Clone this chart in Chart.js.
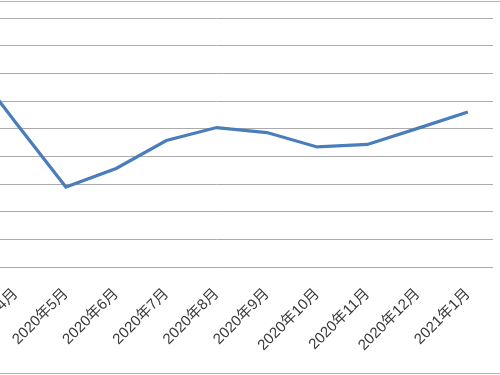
<!DOCTYPE html>
<html>
<head>
<meta charset="utf-8">
<script src="https://cdn.jsdelivr.net/npm/chart.js@4/dist/chart.umd.min.js"></script>
<style>
  html, body { margin: 0; padding: 0; background: #ffffff; overflow: hidden; width: 500px; height: 375px; }
  #frame { position: absolute; left: 0; top: 1px; width: 500px; height: 371px;
           border-top: 1px solid #b4b4b4; border-bottom: 1px solid #b4b4b4; }
  #c { position: absolute; left: -100px; top: 0; }
</style>
</head>
<body>
<div id="frame"></div>
<canvas id="c" width="600" height="375"></canvas>
<script>
// Categories (the chart is cropped on the left; the first ones fall outside the picture)
const months = ['2020年3月', '2020年4月', '2020年5月', '2020年6月', '2020年7月', '2020年8月',
                '2020年9月', '2020年10月', '2020年11月', '2020年12月', '2021年1月'];
// Series values (y-axis labels are not visible, unit = one gridline step)
const seriesValues = [7.6, 5.22, 2.89, 3.56, 4.57, 5.04, 4.86, 4.34, 4.43, 5.01, 5.60];
// Y-axis range (gridlines)
const yMin = 0;
const yMax = 9;
const yStep = 1;

new Chart(document.getElementById('c'), {
  type: 'line',
  data: {
    labels: months,
    datasets: [{
      data: seriesValues,
      borderColor: '#4a7ebb',
      borderWidth: 3.2,
      pointRadius: 0,
      tension: 0,
      fill: false
    }]
  },
  options: {
    responsive: false,
    devicePixelRatio: 1,
    animation: false,
    layout: { padding: { left: 40.25, right: 7, top: 18, bottom: 0 } },
    plugins: { legend: { display: false }, tooltip: { enabled: false } },
    scales: {
      x: {
        offset: true,
        grid: { display: false, drawTicks: false },
        border: { display: false },
        ticks: {
          autoSkip: false,
          maxRotation: 45,
          minRotation: 45,
          padding: 18,
          color: '#3a3a3a',
          font: { family: '"Liberation Sans", "Noto Sans CJK SC", sans-serif', size: 15 }
        },
        afterFit: (scale) => {
          scale.height = 108;
          scale.paddingLeft = 0;
          scale.paddingRight = 0;
        }
      },
      y: {
        min: yMin,
        max: yMax,
        grid: { color: '#ababab', lineWidth: 1, drawTicks: false },
        border: { display: false },
        ticks: { display: false, stepSize: yStep }
      }
    }
  }
});
</script>
</body>
</html>
